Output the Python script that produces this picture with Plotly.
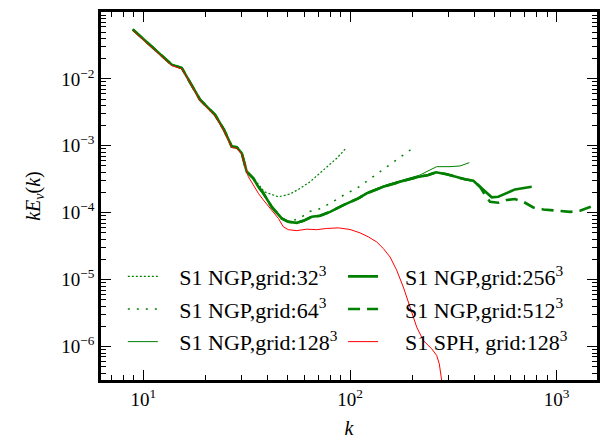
import plotly.graph_objects as go

# ---- data ----
k_low = [8.89, 13.72, 15.34, 16.82, 18.8, 20.63, 22.23, 24.57, 26.77, 28.31, 29.94, 31.64, 34.05]
e_low = [0.0546, 0.01633, 0.01457, 0.00908, 0.00488, 0.00366, 0.0029, 0.00173, 0.000973, 0.000953, 0.000774, 0.00041, 0.000327]

k_mid = [36.01, 38.07, 41.8, 46.72, 50.29, 55.23, 59.44, 65.27, 71.58, 80.07, 92.8]
e_mid = [0.000244, 0.000195, 0.000122, 8.22e-5, 7.31e-5, 7.06e-5, 7.57e-5, 8.69e-5, 8.99e-5, 1.031e-4, 1.3e-4]

k_hi = [109.7, 120.4, 144.9, 174.5, 210.2, 239.2, 260.6, 293.7, 328.2, 360.1, 395.0, 425.6, 441.5]
e_hi = [1.64e-4, 1.95e-4, 2.44e-4, 2.9e-4, 3.38e-4, 3.66e-4, 4.02e-4, 3.75e-4, 3.38e-4, 3.16e-4, 3.01e-4, 2.44e-4, 2.18e-4]

k_32_tail = [36.5, 38.4, 45.0, 51.24, 57.3, 64.06, 74.27, 86.25, 95.63]
e_32_tail = [0.000255, 0.000206, 0.000173, 0.00019, 0.000231, 0.00029, 0.000436, 0.000652, 0.00092]

k_64_tail = [57.3, 62.85, 70.25, 80.07, 96.4, 107.8, 118.2, 129.7, 142.3, 157.3, 173.2, 191.4, 196.0]
e_64_tail = [8.22e-5, 1.03e-4, 1.12e-4, 1.38e-4, 1.95e-4, 2.31e-4, 2.84e-4, 3.45e-4, 4.25e-4, 5.3e-4, 6.52e-4, 8.19e-4, 8.69e-4]

k_128_tail = [109.7, 120.4, 144.9, 174.5, 210.2, 218.2, 243.8, 262.7, 304.6, 340.6, 377.7]
e_128_tail = [1.68e-4, 2.0e-4, 2.52e-4, 3.0e-4, 3.5e-4, 3.66e-4, 4.36e-4, 4.88e-4, 4.88e-4, 5.0e-4, 5.6e-4]

k_256_tail = [484.8, 521.9, 573.1, 628.4, 756.9]
e_256_tail = [1.7e-4, 1.73e-4, 1.99e-4, 2.23e-4, 2.44e-4]

k_512_tail = [449.9, 475.6, 521.9, 573.1, 628.4, 689.0, 770.3, 861.4, 1038.0, 1160.0, 1296.0, 1449.0, 1560.0]
e_512_tail = [1.84e-4, 1.46e-4, 1.41e-4, 1.55e-4, 1.6e-4, 1.46e-4, 1.2e-4, 1.12e-4, 1.06e-4, 1.03e-4, 1.07e-4, 1.2e-4, 1.32e-4]

k_sph = [8.89, 13.72, 15.34, 16.82, 18.8, 20.63, 22.23, 24.57, 26.77, 28.31, 29.94, 32.21, 36.01, 38.07,
         41.02, 45.0, 47.57, 50.29, 55.23, 61.74, 69.02, 77.16, 87.8, 100.0, 111.8, 122.6, 134.6, 144.9,
         156.2, 168.2, 181.1, 195.2, 210.2, 226.2, 248.5, 262.7, 270.4, 277.7, 282.0]
e_sph = [0.0530, 0.01580, 0.01410, 0.00880, 0.00472, 0.00354, 0.00280, 0.00167, 0.000940, 0.000920, 0.000748,
         0.000345, 0.000195, 0.000155, 0.000116, 8.22e-5, 6.15e-5, 5.58e-5, 5.4e-5, 5.68e-5, 5.58e-5,
         5.82e-5, 5.94e-5, 5.62e-5, 5.0e-5, 4.36e-5, 3.66e-5, 2.92e-5, 2.18e-5, 1.38e-5, 7.74e-6, 3.88e-6,
         1.95e-6, 1.23e-6, 9.25e-7, 7.33e-7, 5.5e-7, 3.09e-7, 1.5e-7]

names = ["S1 NGP,grid:32<sup>3</sup>", "S1 NGP,grid:64<sup>3</sup>", "S1 NGP,grid:128<sup>3</sup>",
         "S1 NGP,grid:256<sup>3</sup>", "S1 NGP,grid:512<sup>3</sup>", "S1 SPH, grid:128<sup>3</sup>"]

x_decades = [1, 2, 3]
y_decades = [-6, -5, -4, -3, -2, -1]

GREEN = "#008000"
RED = "#ff0000"
FONT = "Liberation Serif"
PAD = {"legend": "\u00a0" * 3, "legend2": "\u00a0" * 4}

series = [
    (k_low + k_32_tail, e_low + e_32_tail, dict(color=GREEN, width=1.2, dash="2px,2px"), "legend"),
    (k_low + k_mid[:5] + k_64_tail, e_low + e_mid[:5] + e_64_tail, dict(color=GREEN, width=1.5, dash="2px,7px"), "legend"),
    (k_low + k_mid + k_128_tail, e_low + e_mid + e_128_tail, dict(color=GREEN, width=1.0), "legend"),
    (k_low + k_mid + k_hi + k_256_tail, e_low + e_mid + e_hi + e_256_tail, dict(color=GREEN, width=2.6), "legend2"),
    (k_low + k_mid + k_hi[:-1] + k_512_tail, e_low + e_mid + e_hi[:-1] + e_512_tail, dict(color=GREEN, width=2.6, dash="12px,7px"), "legend2"),
    (k_sph, e_sph, dict(color=RED, width=1.0), "legend2"),
]

fig = go.Figure()
for i, (xs, ys, ln, lg) in enumerate(series):
    fig.add_trace(go.Scatter(x=xs, y=ys, mode="lines", line=ln, name=PAD[lg] + names[i],
                             legend=lg, legendgroup=str(i), showlegend=True))


def minor_vals(decades):
    lo = decades[0] - 1
    out = []
    for d in range(lo, decades[-1] + 1):
        out += [m * 10.0 ** d for m in range(2, 10)]
    return out


def axis_cfg(decades):
    return dict(type="log", showline=True, linecolor="black", linewidth=2.5, mirror="ticks",
                ticks="inside", ticklen=10, tickwidth=1.3, tickcolor="black",
                showgrid=False, zeroline=False,
                tickmode="array", tickvals=[10.0 ** d for d in decades],
                ticktext=["10<sup>%s</sup>" % (str(d).replace("-", "\u2212")) for d in decades],
                tickfont=dict(family=FONT, size=19, color="black"),
                minor=dict(ticks="inside", ticklen=5, tickwidth=1, tickcolor="black", showgrid=False,
                           tickmode="array", tickvals=minor_vals(decades)))


fig.update_xaxes(range=[0.795, 3.195],
                 title=dict(text="<i>k</i>", font=dict(family=FONT, size=20, color="black"), standoff=13),
                 **axis_cfg(x_decades))
fig.update_yaxes(range=[-6.5, -1],
                 title=dict(text="<i>kE<sub>v</sub></i>(<i>k</i>)", font=dict(family=FONT, size=20, color="black"), standoff=16),
                 **axis_cfg(y_decades))

legend_common = dict(font=dict(family=FONT, size=22, color="black"), bgcolor="rgba(0,0,0,0)",
                     borderwidth=0, tracegroupgap=1, itemwidth=30, yanchor="top", xanchor="left")
fig.update_layout(
    width=602, height=442,
    font=dict(family=FONT),
    margin=dict(l=101, r=5, t=12, b=62, autoexpand=False),
    paper_bgcolor="white", plot_bgcolor="white",
    legend=dict(x=0.044, y=0.338, **legend_common),
    legend2=dict(x=0.488, y=0.338, **legend_common),
)

fig.write_html("out.html")
